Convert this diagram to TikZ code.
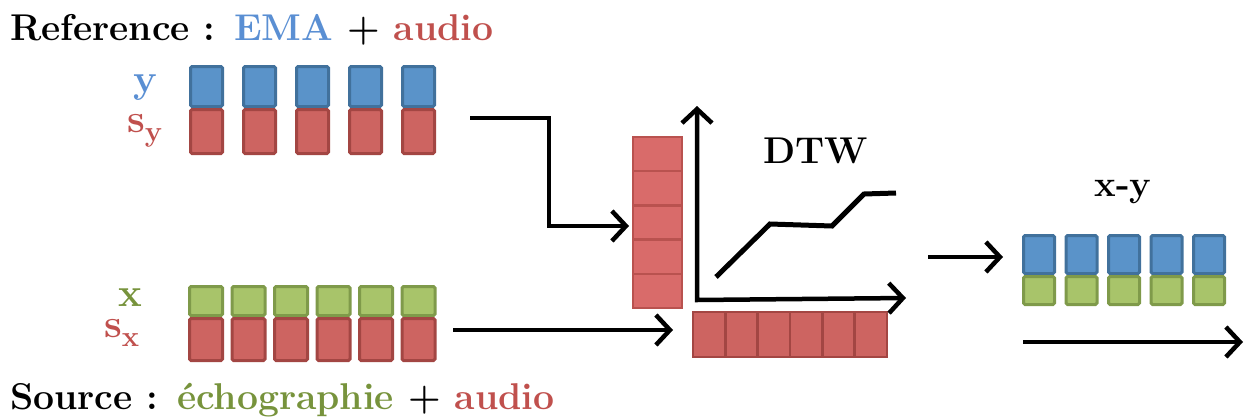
\documentclass[tikz,border=0pt]{standalone}
\usetikzlibrary{arrows.meta}
\definecolor{bfill}{HTML}{5A93C9}
\definecolor{bdraw}{HTML}{41719C}
\definecolor{rfill}{HTML}{CD6461}
\definecolor{rdraw}{HTML}{A34643}
\definecolor{gfill}{HTML}{A8C46A}
\definecolor{gdraw}{HTML}{7F9A4A}
\definecolor{sfill}{HTML}{D96B6A}
\definecolor{sdraw}{HTML}{B9524F}
\definecolor{tblue}{HTML}{5A8FD3}
\definecolor{tred}{HTML}{C0504D}
\definecolor{tgreen}{HTML}{77933C}
\newcommand{\subbf}[1]{\raisebox{-9pt}{\fontsize{29}{32}\selectfont\bfseries #1}}
\tikzset{
  cell/.style={draw, line width=3pt, rounded corners=1.5pt, inner sep=0pt},
  bcell/.style={cell, fill=bfill, draw=bdraw},
  rcell/.style={cell, fill=rfill, draw=rdraw},
  gcell/.style={cell, fill=gfill, draw=gdraw},
  scell/.style={cell, fill=sfill, draw=sdraw, line width=2.5pt, rounded corners=0pt},
  big/.style={font=\fontsize{37.3}{40}\selectfont\bfseries, inner sep=0pt, anchor=base west},
  lab/.style={font=\fontsize{40}{44}\selectfont\bfseries, inner sep=0pt, anchor=base west},
  tip/.tip={Straight Barb[length=14pt,width=30pt,line width=4.5pt]},
  arr/.style={line width=4.5pt, -tip},
  arr2/.style={line width=4.5pt, tip-tip},
}
\begin{document}
\begin{tikzpicture}[x=1pt,y=-1pt]
\useasboundingbox (0,0) rectangle (1245,418);
% titles
\node[big] (tref) at (10,40) {Reference : \textcolor{tblue}{EMA} + \textcolor{tred}{audio}};
\node[big] (tsrc) at (10,409) {Source : \textcolor{tgreen}{échographie} + \textcolor{tred}{audio}};
% labels
\node[lab, text=tblue] (ly) at (133,92) {y};
\node[lab, text=tred] (lsy) at (127,132) {s\subbf{y}};
\node[lab, text=tgreen] (lx) at (118,306) {x};
\node[lab, text=tred] (lsx) at (104,337) {s\subbf{x}};
% reference blocks
\foreach \i in {0,...,4}{
  \node[bcell, minimum width=32pt, minimum height=40pt] (yb\i) at (206.5+53*\i,86.5) {};
  \node[rcell, minimum width=32pt, minimum height=44pt] (yr\i) at (206.5+53*\i,131.5) {};
}
% source blocks
\foreach \i in {0,...,5}{
  \node[gcell, minimum width=33pt, minimum height=29pt] (xg\i) at (206+42.5*\i,301) {};
  \node[rcell, minimum width=33pt, minimum height=42pt] (xr\i) at (206+42.5*\i,339.5) {};
}
% vertical stack
\foreach \i in {0,...,4}{
  \node[scell, minimum width=49pt, minimum height=34.2pt] (sv\i) at (657.5,154.1+34.2*\i) {};
}
% horizontal row
\foreach \i in {0,...,5}{
  \node[rcell, line width=2.5pt, rounded corners=0pt, minimum width=32.3pt, minimum height=45pt] (sh\i) at (709.2+32.3*\i,334.5) {};
}
% result blocks
\foreach \i in {0,...,4}{
  \node[bcell, minimum width=31pt, minimum height=38pt] (rb\i) at (1039+42.5*\i,254.5) {};
  \node[gcell, minimum width=31pt, minimum height=28pt] (rg\i) at (1039+42.5*\i,290.5) {};
}
% texts
\node[big] (dtw) at (763,163) {DTW};
\node[font=\fontsize{36.5}{40}\selectfont\bfseries, inner sep=0pt, anchor=base] (xy) at (1123,196) {x-y};
% arrows
\coordinate (a1s) at (470,118);
\coordinate (a1e) at (629,226);
\draw[arr] (a1s) -- (549,118) -- (549,226) -- (a1e);
\coordinate (a2s) at (453,330);
\coordinate (a2e) at (673,330);
\draw[arr] (a2s) -- (a2e);
% axes
\coordinate (ax0) at (697,300);
\coordinate (axy) at (697,106);
\coordinate (axx) at (906,298);
\draw[arr2, line join=miter] (axy) -- (ax0) -- (axx);
% DTW path
\coordinate (p0) at (716,277);
\coordinate (p1) at (770,224);
\coordinate (p2) at (832,226);
\coordinate (p3) at (864,194);
\coordinate (p4) at (896,193);
\draw[line width=5pt] (p0) -- (p1) -- (p2) -- (p3) -- (p4);
% right arrows
\coordinate (a3s) at (928,257);
\coordinate (a3e) at (1003,257);
\draw[arr] (a3s) -- (a3e);
\coordinate (a4s) at (1023,342);
\coordinate (a4e) at (1243,342);
\draw[arr] (a4s) -- (a4e);
\end{tikzpicture}
\end{document}
